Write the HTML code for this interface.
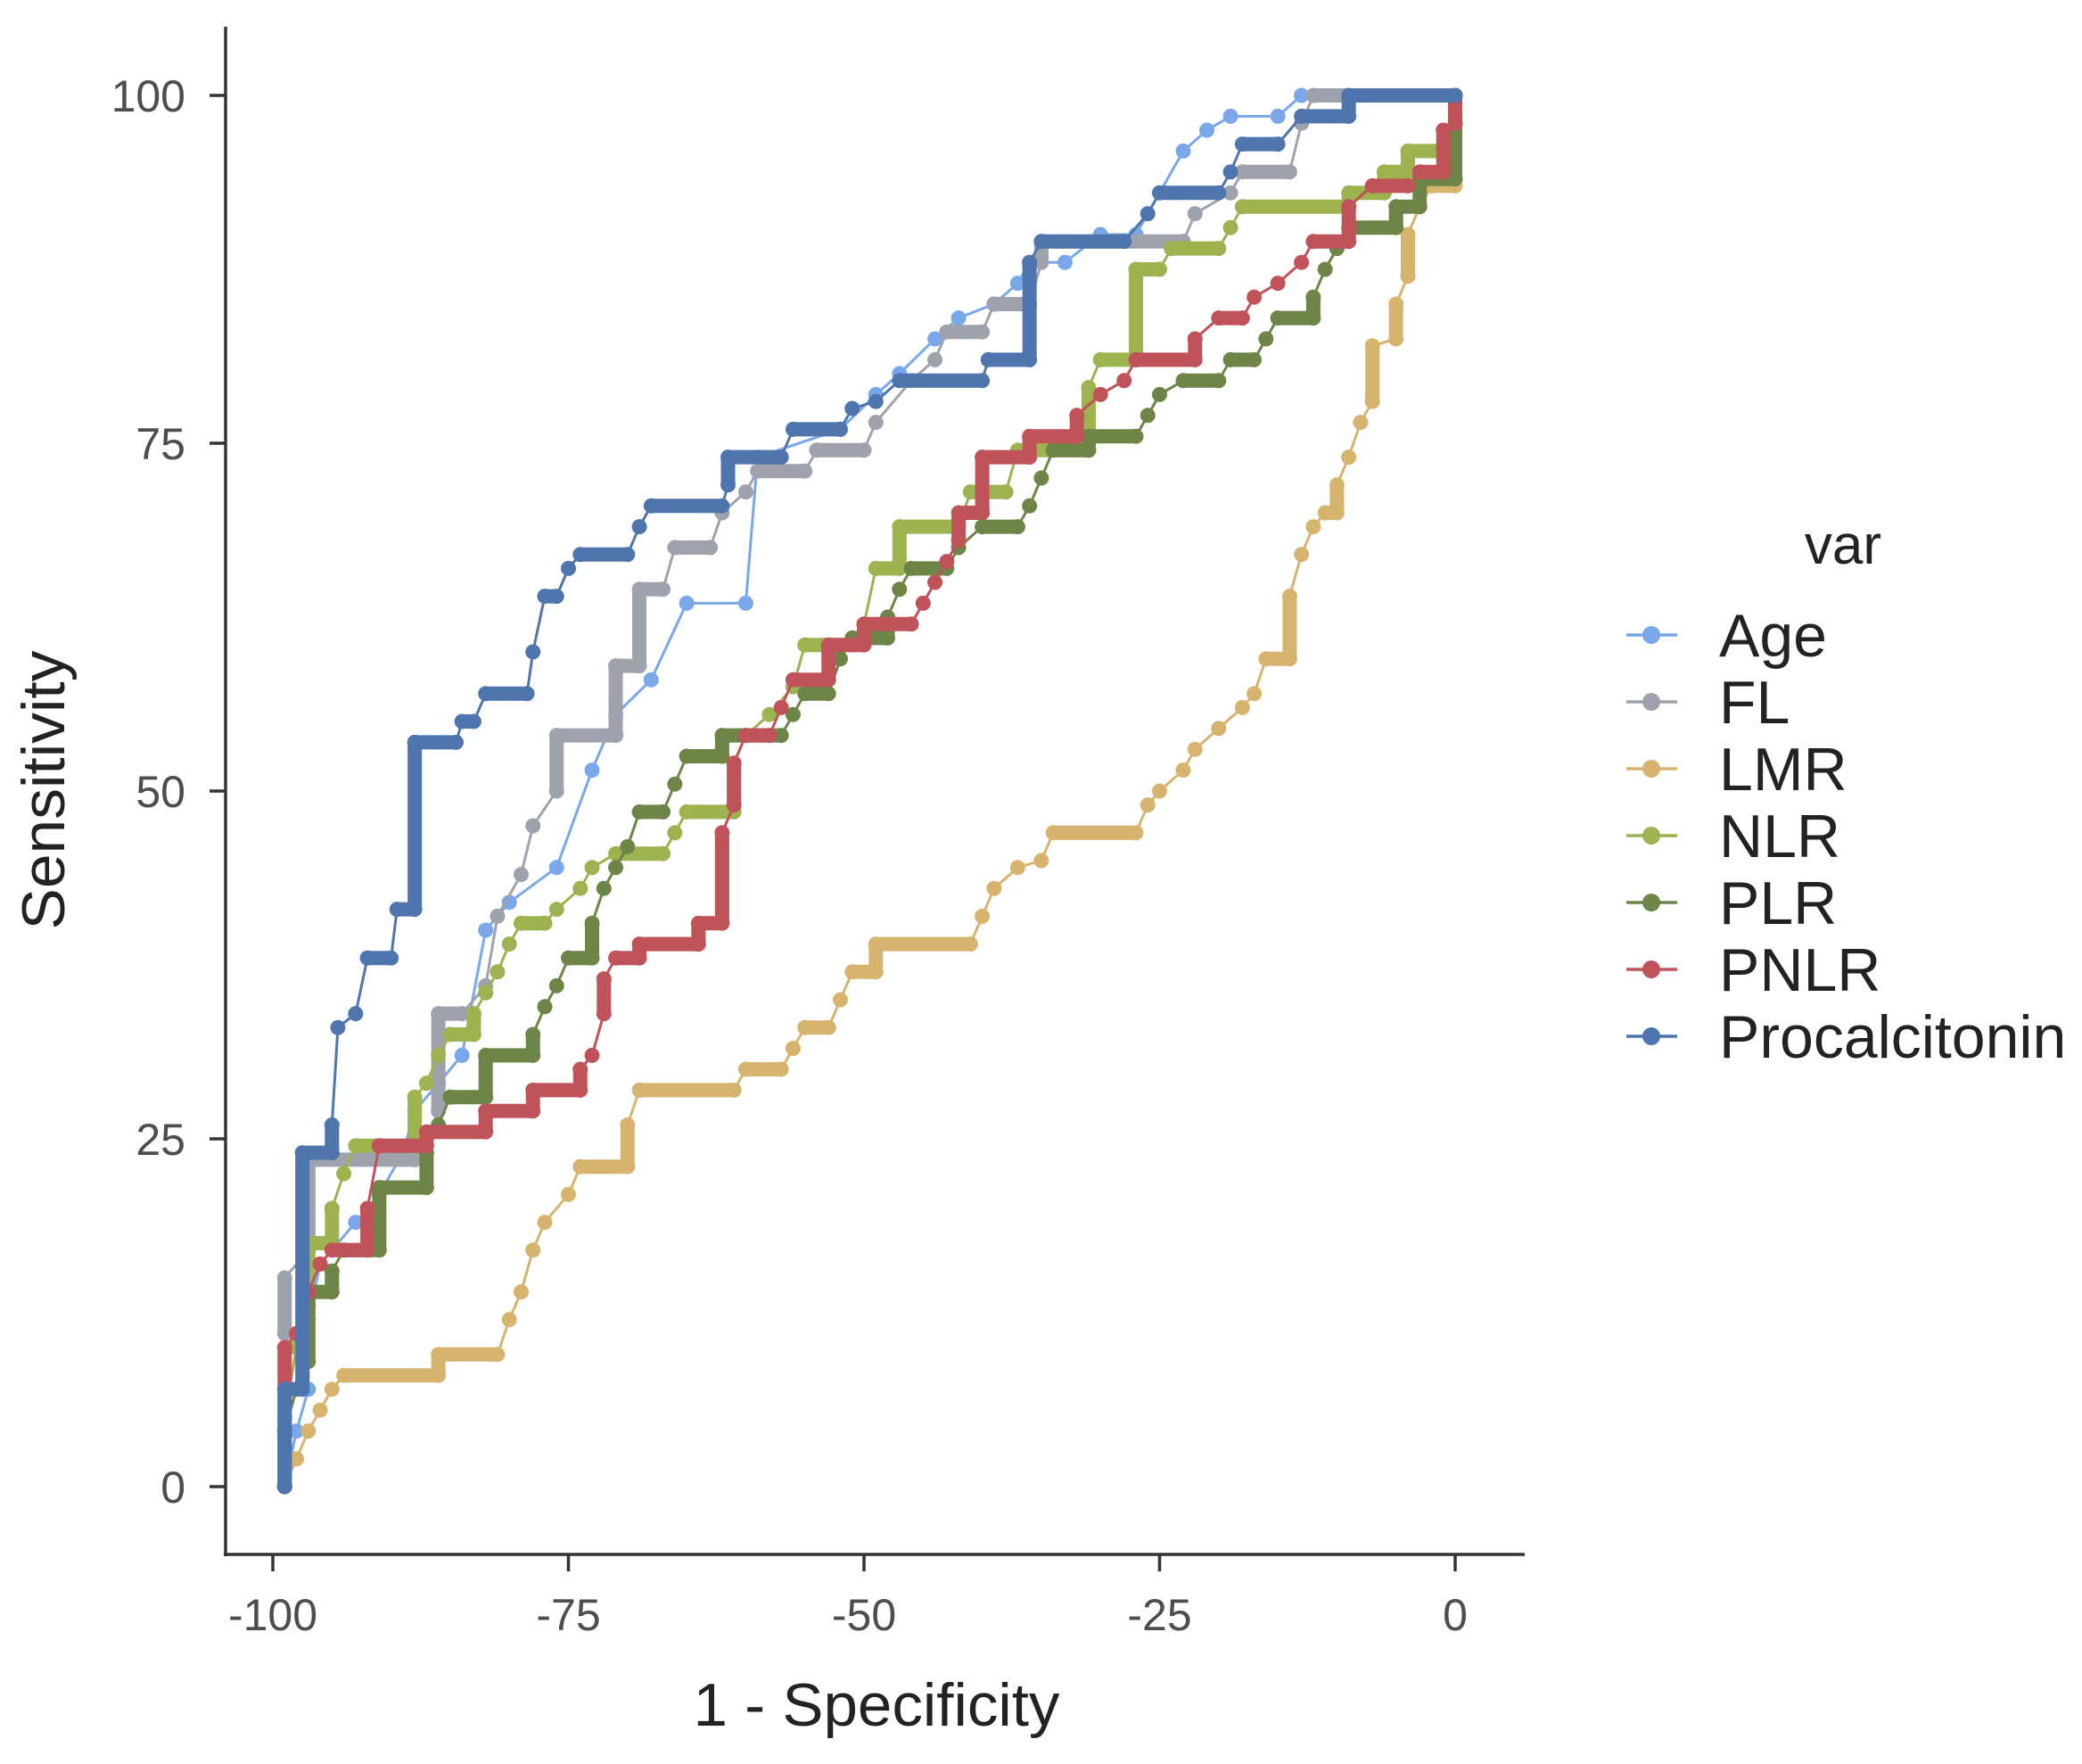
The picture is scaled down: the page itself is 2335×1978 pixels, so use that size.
<!DOCTYPE html>
<html><head><meta charset="utf-8"><style>
html,body{margin:0;padding:0;background:#fff;}
svg{display:block;font-family:"Liberation Sans",Arial,sans-serif;}
</style></head><body>
<svg id="chart" width="2335" height="1978" viewBox="0 0 2335 1978" xmlns="http://www.w3.org/2000/svg">
<g id="series"></g>
<g id="axes"></g>
<g id="legend"></g>
</svg>
<script>
const seriesNames = ["Age","FL","LMR","NLR","PLR","PNLR","Procalcitonin"];
const seriesColors = ["#79a7ea","#9ea2ac","#d7b46e","#9cb34f","#6e8548","#c0525a","#4f75ae"];
const xTicks = [-100,-75,-50,-25,0];
const yTicks = [0,25,50,75,100];
const ageData = [[-99,0],[-98,4],[-97,7],[-97,12],[-96,16],[-93,19],[-91,21],[-89,24],[-88,27],[-86,29],[-84,31],[-82,40],[-80,42],[-76,44.5],[-73,51.5],[-71,55.5],[-68,58],[-65,63.5],[-60,63.5],[-59,74],[-52,76],[-49,78.5],[-47,80],[-44,82.5],[-42,84],[-39,85],[-37,86.5],[-36,88],[-33,88],[-30,90],[-27,90],[-25,93],[-23,96],[-21,97.5],[-19,98.5],[-15,98.5],[-13,100],[0,100]];
const flData = [[-99,11],[-99,15],[-97,17],[-97,23.5],[-88,23.5],[-87,25],[-86,27],[-86,34],[-84,34],[-82,36],[-81,41],[-79,44],[-78,47.5],[-76,50],[-76,54],[-71,54],[-71,59],[-69,59],[-69,64.5],[-67,64.5],[-66,67.5],[-63,67.5],[-62,70],[-60,71.5],[-59,73],[-55,73],[-54,74.5],[-50,74.5],[-49,76.5],[-46,79.5],[-44,81],[-43,83],[-40,83],[-39,85],[-36,85],[-35,88],[-35,89.5],[-23,89.5],[-22,91.5],[-19,93],[-18,94.5],[-14,94.5],[-13,98],[-12,100],[0,100]];
const lmrData = [[-99,0],[-98,2],[-97,4],[-96,5.5],[-95,7],[-94,8],[-86,8],[-86,9.5],[-81,9.5],[-80,12],[-79,14],[-78,17],[-77,19],[-75,21],[-74,23],[-70,23],[-70,26],[-69,28.5],[-61,28.5],[-60,30],[-57,30],[-56,31.5],[-55,33],[-53,33],[-52,35],[-51,37],[-49,37],[-49,39],[-41,39],[-40,41],[-39,43],[-37,44.5],[-35,45],[-34,47],[-27,47],[-26,49],[-25,50],[-23,51.5],[-22,53],[-20,54.5],[-18,56],[-17,57],[-16,59.5],[-14,59.5],[-14,64],[-13,67],[-12,69],[-11,70],[-10,70],[-10,72],[-9,74],[-8,76.5],[-7,78],[-7,82],[-5,82.5],[-5,85],[-4,87],[-4,90],[-3,92],[-2,93.5],[0,93.5]];
const nlrData = [[-99,0],[-99,5],[-98,10],[-97,13],[-97,17.5],[-95,17.5],[-95,20],[-94,22.5],[-93,24.5],[-88,24.5],[-88,28],[-87,29],[-86,31],[-85,32.5],[-83,32.5],[-83,34],[-82,35.5],[-81,37],[-80,39],[-79,40.5],[-77,40.5],[-76,41.5],[-74,43],[-73,44.5],[-71,45.5],[-67,45.5],[-66,47],[-65,48.5],[-61,48.5],[-61,52],[-60,54],[-58,55.5],[-56,57.5],[-55,60.5],[-51,60.5],[-50,62],[-49,66],[-47,66],[-47,69],[-42,69],[-41,71.5],[-38,71.5],[-37,74.5],[-31,74.5],[-31,79],[-30,81],[-27,81],[-27,87.5],[-25,87.5],[-24,89],[-20,89],[-19,90.5],[-18,92],[-9,92],[-9,93],[-6,93],[-6,94.5],[-4,94.5],[-4,96],[-1,96],[0,100]];
const plrData = [[-99,0],[-99,4],[-98,7],[-97,9],[-97,14],[-95,14],[-95,15.5],[-94,17],[-91,17],[-91,21.5],[-87,21.5],[-87,24],[-86,26],[-85,28],[-82,28],[-82,31],[-78,31],[-78,32.5],[-77,34.5],[-76,36],[-75,38],[-73,38],[-73,40.5],[-72,43],[-71,44.5],[-70,46],[-69,48.5],[-67,48.5],[-66,50.5],[-65,52.5],[-62,52.5],[-62,54],[-57,54],[-56,55.5],[-55,57],[-53,57],[-52,59.5],[-51,61],[-48,61],[-48,62.5],[-47,64.5],[-46,66],[-43,66],[-42,67.5],[-40,69],[-37,69],[-36,70.5],[-35,72.5],[-34,74.5],[-31,74.5],[-31,75.5],[-27,75.5],[-26,77],[-25,78.5],[-23,79.5],[-20,79.5],[-19,81],[-17,81],[-16,82.5],[-15,84],[-12,84],[-12,85.5],[-11,87.5],[-10,89],[-9,90.5],[-5,90.5],[-5,92],[-3,92],[-3,94],[0,94],[0,98],[0,100]];
const pnlrData = [[-99,0],[-99,10],[-98,11],[-97,14],[-96,16],[-95,17],[-92,17],[-92,20],[-91,24.5],[-87,24.5],[-87,25.5],[-82,25.5],[-82,27],[-78,27],[-78,28.5],[-74,28.5],[-74,30],[-73,31],[-72,34],[-72,36.5],[-71,38],[-69,38],[-69,39],[-64,39],[-64,40.5],[-62,40.5],[-62,47],[-61,49],[-61,52],[-60,54],[-58,54],[-57,56],[-56,58],[-53,58],[-53,60.5],[-50,60.5],[-50,62],[-46,62],[-45,63.5],[-44,65],[-43,66.5],[-42,68],[-42,70],[-40,70],[-40,74],[-36,74],[-36,75.5],[-32,75.5],[-32,77],[-30,78.5],[-28,79.5],[-27,81],[-22,81],[-22,82.5],[-20,84],[-18,84],[-17,85.5],[-15,86.5],[-13,88],[-12,89.5],[-9,89.5],[-9,92],[-7,93.5],[-4,93.5],[-3,94.5],[-1,94.5],[-1,97.5],[0,98],[0,100]];
const pctData = [[-99,0],[-99,7],[-97.5,7],[-97.5,24],[-95,24],[-95,26],[-94.5,33],[-93,34],[-92,38],[-90,38],[-89.5,41.5],[-88,41.5],[-88,53.5],[-84.5,53.5],[-84,55],[-83,55],[-82,57],[-78.5,57],[-78,60],[-77,64],[-76,64],[-75,66],[-74,67],[-70,67],[-69,69],[-68,70.5],[-62,70.5],[-61.5,72],[-61.5,74],[-57,74],[-56,76],[-52,76],[-51,77.5],[-49,78],[-47,79.5],[-40,79.5],[-39.5,81],[-36,81],[-36,88],[-35,89.5],[-28,89.5],[-26,91.5],[-25,93],[-20,93],[-19,94.5],[-18,96.5],[-15,96.5],[-13,98.5],[-9,98.5],[-9,100],[0,100]];
const seriesData = [ageData,flData,lmrData,nlrData,plrData,pnlrData,pctData];
const seriesDense = [false,true,true,true,true,true,true];

const NS="http://www.w3.org/2000/svg";
const X0=306, X1=1632, Y0=1667, Y1=107;
function sx(v){return X0+(v+100)/100*(X1-X0);}
function sy(v){return Y0-v/100*(Y0-Y1);}
function mk(tag,attrs,parent){const e=document.createElementNS(NS,tag);for(const k in attrs)e.setAttribute(k,attrs[k]);parent.appendChild(e);return e;}

const gS=document.getElementById('series');
seriesData.forEach((data,i)=>{
  const col=seriesColors[i];
  const g=mk('g',{},gS);
  
  
  if(seriesDense[i]){
    for(let k=1;k<data.length;k++){
      const a=data[k-1],b=data[k];
      if(a[0]===b[0]||a[1]===b[1]){
        const seg=mk('line',{x1:sx(a[0]),y1:sy(a[1]),x2:sx(b[0]),y2:sy(b[1]),stroke:col,'stroke-width':16,'stroke-linecap':'round'},g);
        
        
      }
    }
  }
  const p=mk('polyline',{points:data.map(d=>sx(d[0])+','+sy(d[1])).join(' '),fill:'none',stroke:col,'stroke-width':3},g);
  
  
  data.forEach(d=>{
    const c=mk('circle',{cx:sx(d[0]),cy:sy(d[1]),r:8.5,fill:col},g);
    
    
  });
});

const gA=document.getElementById('axes');
const ya=mk('line',{x1:253,y1:30,x2:253,y2:1745,stroke:'#333','stroke-width':3.5},gA);


const xa=mk('line',{x1:251,y1:1743,x2:1710,y2:1743,stroke:'#333','stroke-width':3.5},gA);


yTicks.forEach(t=>{
  const tk=mk('line',{x1:235,y1:sy(t),x2:253,y2:sy(t),stroke:'#333','stroke-width':3.5},gA);
  
  
  const tx=mk('text',{x:208,y:sy(t)+18,'font-size':50,'text-anchor':'end',fill:'#4d4d4d'},gA);
  tx.textContent=t;
  
  
});
xTicks.forEach(t=>{
  const tk=mk('line',{x1:sx(t),y1:1743,x2:sx(t),y2:1762,stroke:'#333','stroke-width':3.5},gA);
  
  
  const tx=mk('text',{x:sx(t),y:1828,'font-size':50,'text-anchor':'middle',fill:'#4d4d4d'},gA);
  tx.textContent=t;
  
  
});
const xt=mk('text',{x:983,y:1935,'font-size':68,'text-anchor':'middle',fill:'#222',textLength:411,lengthAdjust:'spacingAndGlyphs'},gA);
xt.textContent='1 - Specificity';


const yt=mk('text',{x:0,y:0,'font-size':68,'text-anchor':'middle',fill:'#222',transform:'translate(72,886) rotate(-90)',textLength:313,lengthAdjust:'spacingAndGlyphs'},gA);
yt.textContent='Sensitivity';



const gL=document.getElementById('legend');
const lt=mk('text',{x:2067,y:632,'font-size':62,'text-anchor':'middle',fill:'#222'},gL);
lt.textContent='var';


seriesNames.forEach((n,i)=>{
  const y=712+i*75;
  const g=mk('g',{},gL);
  
  
  mk('line',{x1:1824,y1:y,x2:1881,y2:y,stroke:seriesColors[i],'stroke-width':3.5},g);
  mk('circle',{cx:1852,cy:y,r:10,fill:seriesColors[i]},g);
  const t=mk('text',{x:1928,y:y+24,'font-size':68,fill:'#222'},g);
  t.textContent=n;
  
  
});
</script>
</body></html>
